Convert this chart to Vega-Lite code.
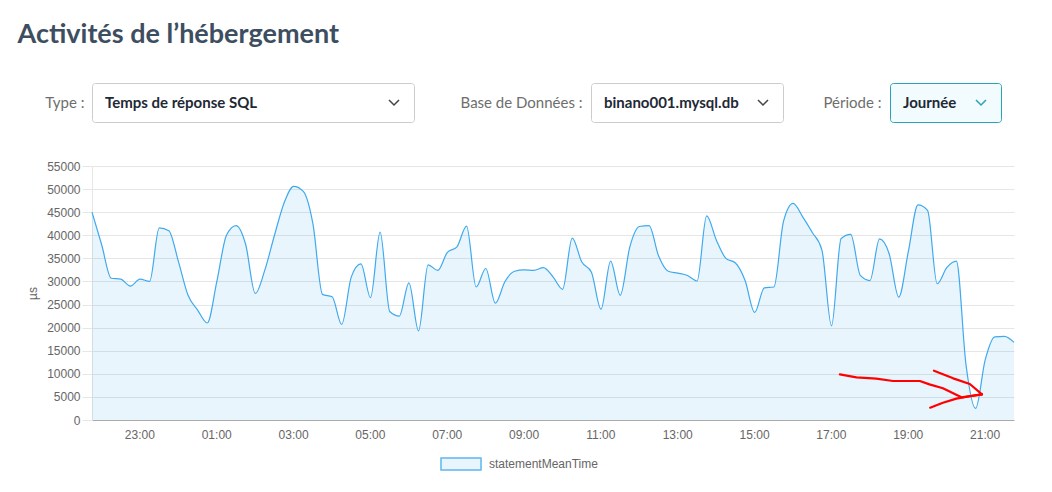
{
  "$schema": "https://vega.github.io/schema/vega-lite/v6.json",
  "padding": {"left": 17, "top": 20, "right": 10, "bottom": 5},
  "background": "white",
  "title": {"text": "Activités de l’hébergement", "anchor": "start", "font": "Lato", "fontSize": 27, "fontWeight": "bold", "color": "#3d4e61", "offset": 34},
  "datasets": {
    "filtres": [
      {"filtre": "Type :", "choix": "Temps de réponse SQL"},
      {"filtre": "Base de Données :", "choix": "binano001.mysql.db"},
      {"filtre": "Période :", "choix": "Journée"}
    ],
    "series": [
      {"heure": "2021-03-09T21:46", "valeur": 45000},
      {"heure": "2021-03-09T22:01", "valeur": 38000},
      {"heure": "2021-03-09T22:16", "valeur": 30700},
      {"heure": "2021-03-09T22:31", "valeur": 30500},
      {"heure": "2021-03-09T22:46", "valeur": 29000},
      {"heure": "2021-03-09T23:01", "valeur": 30500},
      {"heure": "2021-03-09T23:16", "valeur": 30000},
      {"heure": "2021-03-09T23:31", "valeur": 41600},
      {"heure": "2021-03-09T23:46", "valeur": 41000},
      {"heure": "2021-03-10T00:01", "valeur": 34300},
      {"heure": "2021-03-10T00:16", "valeur": 27000},
      {"heure": "2021-03-10T00:31", "valeur": 23800},
      {"heure": "2021-03-10T00:46", "valeur": 21000},
      {"heure": "2021-03-10T01:01", "valeur": 30000},
      {"heure": "2021-03-10T01:16", "valeur": 40000},
      {"heure": "2021-03-10T01:31", "valeur": 42100},
      {"heure": "2021-03-10T01:46", "valeur": 38000},
      {"heure": "2021-03-10T02:01", "valeur": 27400},
      {"heure": "2021-03-10T02:16", "valeur": 32500},
      {"heure": "2021-03-10T02:31", "valeur": 40000},
      {"heure": "2021-03-10T02:46", "valeur": 47000},
      {"heure": "2021-03-10T03:01", "valeur": 50600},
      {"heure": "2021-03-10T03:16", "valeur": 49500},
      {"heure": "2021-03-10T03:31", "valeur": 42500},
      {"heure": "2021-03-10T03:46", "valeur": 27200},
      {"heure": "2021-03-10T04:01", "valeur": 26700},
      {"heure": "2021-03-10T04:16", "valeur": 20700},
      {"heure": "2021-03-10T04:31", "valeur": 31000},
      {"heure": "2021-03-10T04:46", "valeur": 33800},
      {"heure": "2021-03-10T05:01", "valeur": 26500},
      {"heure": "2021-03-10T05:16", "valeur": 40700},
      {"heure": "2021-03-10T05:31", "valeur": 23500},
      {"heure": "2021-03-10T05:46", "valeur": 22500},
      {"heure": "2021-03-10T06:01", "valeur": 29700},
      {"heure": "2021-03-10T06:16", "valeur": 19300},
      {"heure": "2021-03-10T06:31", "valeur": 33600},
      {"heure": "2021-03-10T06:46", "valeur": 32400},
      {"heure": "2021-03-10T07:01", "valeur": 36300},
      {"heure": "2021-03-10T07:16", "valeur": 37500},
      {"heure": "2021-03-10T07:31", "valeur": 42000},
      {"heure": "2021-03-10T07:46", "valeur": 28800},
      {"heure": "2021-03-10T08:01", "valeur": 32800},
      {"heure": "2021-03-10T08:16", "valeur": 25300},
      {"heure": "2021-03-10T08:31", "valeur": 30000},
      {"heure": "2021-03-10T08:46", "valeur": 32200},
      {"heure": "2021-03-10T09:01", "valeur": 32500},
      {"heure": "2021-03-10T09:16", "valeur": 32400},
      {"heure": "2021-03-10T09:31", "valeur": 33000},
      {"heure": "2021-03-10T09:46", "valeur": 31000},
      {"heure": "2021-03-10T10:01", "valeur": 28300},
      {"heure": "2021-03-10T10:16", "valeur": 39400},
      {"heure": "2021-03-10T10:31", "valeur": 34200},
      {"heure": "2021-03-10T10:46", "valeur": 32000},
      {"heure": "2021-03-10T11:01", "valeur": 24000},
      {"heure": "2021-03-10T11:16", "valeur": 34400},
      {"heure": "2021-03-10T11:31", "valeur": 27000},
      {"heure": "2021-03-10T11:46", "valeur": 37500},
      {"heure": "2021-03-10T12:01", "valeur": 41900},
      {"heure": "2021-03-10T12:16", "valeur": 42100},
      {"heure": "2021-03-10T12:31", "valeur": 35500},
      {"heure": "2021-03-10T12:46", "valeur": 32200},
      {"heure": "2021-03-10T13:01", "valeur": 31800},
      {"heure": "2021-03-10T13:16", "valeur": 31300},
      {"heure": "2021-03-10T13:31", "valeur": 30100},
      {"heure": "2021-03-10T13:46", "valeur": 44200},
      {"heure": "2021-03-10T14:01", "valeur": 39000},
      {"heure": "2021-03-10T14:16", "valeur": 35000},
      {"heure": "2021-03-10T14:31", "valeur": 34000},
      {"heure": "2021-03-10T14:46", "valeur": 30200},
      {"heure": "2021-03-10T15:01", "valeur": 23300},
      {"heure": "2021-03-10T15:16", "valeur": 28600},
      {"heure": "2021-03-10T15:31", "valeur": 28800},
      {"heure": "2021-03-10T15:46", "valeur": 43000},
      {"heure": "2021-03-10T16:01", "valeur": 46900},
      {"heure": "2021-03-10T16:16", "valeur": 44000},
      {"heure": "2021-03-10T16:31", "valeur": 40600},
      {"heure": "2021-03-10T16:46", "valeur": 36800},
      {"heure": "2021-03-10T17:01", "valeur": 20400},
      {"heure": "2021-03-10T17:16", "valeur": 39300},
      {"heure": "2021-03-10T17:31", "valeur": 40200},
      {"heure": "2021-03-10T17:46", "valeur": 31300},
      {"heure": "2021-03-10T18:01", "valeur": 30200},
      {"heure": "2021-03-10T18:16", "valeur": 39200},
      {"heure": "2021-03-10T18:31", "valeur": 36000},
      {"heure": "2021-03-10T18:46", "valeur": 26600},
      {"heure": "2021-03-10T19:01", "valeur": 36500},
      {"heure": "2021-03-10T19:16", "valeur": 46600},
      {"heure": "2021-03-10T19:31", "valeur": 45400},
      {"heure": "2021-03-10T19:46", "valeur": 29500},
      {"heure": "2021-03-10T20:01", "valeur": 33000},
      {"heure": "2021-03-10T20:16", "valeur": 34400},
      {"heure": "2021-03-10T20:31", "valeur": 12000},
      {"heure": "2021-03-10T20:46", "valeur": 2500},
      {"heure": "2021-03-10T21:01", "valeur": 13000},
      {"heure": "2021-03-10T21:16", "valeur": 18000},
      {"heure": "2021-03-10T21:31", "valeur": 18100},
      {"heure": "2021-03-10T21:46", "valeur": 16800}
    ],
    "fleche": [
      {"trait": "tige", "heure": "2021-03-10T17:14", "valeur": 9890},
      {"trait": "tige", "heure": "2021-03-10T17:40", "valeur": 9240},
      {"trait": "tige", "heure": "2021-03-10T18:11", "valeur": 8950},
      {"trait": "tige", "heure": "2021-03-10T18:37", "valeur": 8450},
      {"trait": "tige", "heure": "2021-03-10T19:19", "valeur": 8450},
      {"trait": "tige", "heure": "2021-03-10T19:34", "valeur": 7720},
      {"trait": "tige", "heure": "2021-03-10T19:55", "valeur": 6860},
      {"trait": "tige", "heure": "2021-03-10T20:11", "valeur": 5780},
      {"trait": "tige", "heure": "2021-03-10T20:24", "valeur": 4910},
      {"trait": "tige", "heure": "2021-03-10T20:56", "valeur": 5560},
      {"trait": "bas", "heure": "2021-03-10T19:35", "valeur": 2670},
      {"trait": "bas", "heure": "2021-03-10T19:55", "valeur": 3750},
      {"trait": "bas", "heure": "2021-03-10T20:16", "valeur": 4620},
      {"trait": "bas", "heure": "2021-03-10T20:39", "valeur": 5200},
      {"trait": "bas", "heure": "2021-03-10T20:56", "valeur": 5560},
      {"trait": "haut", "heure": "2021-03-10T19:41", "valeur": 10680},
      {"trait": "haut", "heure": "2021-03-10T20:11", "valeur": 9020},
      {"trait": "haut", "heure": "2021-03-10T20:37", "valeur": 7800},
      {"trait": "haut", "heure": "2021-03-10T20:56", "valeur": 5560}
    ]
  },
  "vconcat": [
    {
      "hconcat": [
        {
          "data": {"name": "filtres"},
          "transform": [{"filter": "datum.filtre === 'Type :'"}],
          "width": 322, "height": 39,
          "view": {"fill": "white", "stroke": "#cccccc", "cornerRadius": 3},
          "encoding": {
            "y": {"field": "filtre", "type": "nominal", "axis": {"title": null, "ticks": false, "domain": false, "labelPadding": 8, "labelFont": "Lato", "labelFontSize": 15, "labelColor": "#6e6e6e", "minExtent": 74}},
            "x": {"field": "filtre", "type": "nominal", "axis": null, "scale": {"type": "band", "paddingInner": 0, "paddingOuter": 0}}
          },
          "layer": [
            {"mark": {"type": "text", "align": "left", "dx": 13, "font": "Lato", "fontSize": 15, "fontWeight": "bold", "color": "#1e2935"},
             "encoding": {"text": {"field": "choix"}, "x": {"field": "filtre", "type": "nominal", "axis": null, "bandPosition": 0}}},
            {"mark": {"type": "point", "shape": "M-1,-0.5L0,0.5L1,-0.5", "size": 100, "filled": false, "stroke": "#444444", "strokeWidth": 1.5, "opacity": 1, "xOffset": -20},
             "encoding": {"x": {"field": "filtre", "type": "nominal", "axis": null, "bandPosition": 1}}}
          ]
        },
        {
          "data": {"name": "filtres"},
          "transform": [{"filter": "datum.filtre === 'Base de Données :'"}],
          "width": 192, "height": 39,
          "view": {"fill": "white", "stroke": "#cccccc", "cornerRadius": 3},
          "encoding": {
            "y": {"field": "filtre", "type": "nominal", "axis": {"title": null, "ticks": false, "domain": false, "labelPadding": 9, "labelFont": "Lato", "labelFontSize": 15, "labelColor": "#6e6e6e", "minExtent": 137}},
            "x": {"field": "filtre", "type": "nominal", "axis": null, "scale": {"type": "band", "paddingInner": 0, "paddingOuter": 0}}
          },
          "layer": [
            {"mark": {"type": "text", "align": "left", "dx": 13, "font": "Lato", "fontSize": 15, "fontWeight": "bold", "color": "#1e2935"},
             "encoding": {"text": {"field": "choix"}, "x": {"field": "filtre", "type": "nominal", "axis": null, "bandPosition": 0}}},
            {"mark": {"type": "point", "shape": "M-1,-0.5L0,0.5L1,-0.5", "size": 100, "filled": false, "stroke": "#444444", "strokeWidth": 1.5, "opacity": 1, "xOffset": -20},
             "encoding": {"x": {"field": "filtre", "type": "nominal", "axis": null, "bandPosition": 1}}}
          ]
        },
        {
          "data": {"name": "filtres"},
          "transform": [{"filter": "datum.filtre === 'Période :'"}],
          "width": 111, "height": 39,
          "view": {"fill": "#f2fbfd", "stroke": "#2aa3b7", "cornerRadius": 3},
          "encoding": {
            "y": {"field": "filtre", "type": "nominal", "axis": {"title": null, "ticks": false, "domain": false, "labelPadding": 9, "labelFont": "Lato", "labelFontSize": 15, "labelColor": "#6e6e6e"}},
            "x": {"field": "filtre", "type": "nominal", "axis": null, "scale": {"type": "band", "paddingInner": 0, "paddingOuter": 0}}
          },
          "layer": [
            {"mark": {"type": "text", "align": "left", "dx": 13, "font": "Lato", "fontSize": 15, "fontWeight": "bold", "color": "#1e2935"},
             "encoding": {"text": {"field": "choix"}, "x": {"field": "filtre", "type": "nominal", "axis": null, "bandPosition": 0}}},
            {"mark": {"type": "point", "shape": "M-1,-0.5L0,0.5L1,-0.5", "size": 100, "filled": false, "stroke": "#2aa3b7", "strokeWidth": 1.5, "opacity": 1, "xOffset": -20},
             "encoding": {"x": {"field": "filtre", "type": "nominal", "axis": null, "bandPosition": 1}}}
          ]
        }
      ],
      "spacing": 38
    },
    {
      "width": 922,
      "height": 254,
      "encoding": {
        "x": {"field": "heure", "type": "temporal",
          "scale": {"domain": [{"year": 2021, "month": 3, "date": 9, "hours": 21, "minutes": 46}, {"year": 2021, "month": 3, "date": 10, "hours": 21, "minutes": 46}], "nice": false},
          "axis": {"title": null, "format": "%H:%M", "grid": false, "ticks": false, "domainColor": "#aaaaaa", "labelColor": "#666666", "labelFont": "Liberation Sans", "labelFontSize": 12, "labelPadding": 9, "labelFlush": false,
            "values": [
              {"year": 2021, "month": 3, "date": 9, "hours": 23},
              {"year": 2021, "month": 3, "date": 10, "hours": 1},
              {"year": 2021, "month": 3, "date": 10, "hours": 3},
              {"year": 2021, "month": 3, "date": 10, "hours": 5},
              {"year": 2021, "month": 3, "date": 10, "hours": 7},
              {"year": 2021, "month": 3, "date": 10, "hours": 9},
              {"year": 2021, "month": 3, "date": 10, "hours": 11},
              {"year": 2021, "month": 3, "date": 10, "hours": 13},
              {"year": 2021, "month": 3, "date": 10, "hours": 15},
              {"year": 2021, "month": 3, "date": 10, "hours": 17},
              {"year": 2021, "month": 3, "date": 10, "hours": 19},
              {"year": 2021, "month": 3, "date": 10, "hours": 21}
            ]}},
        "y": {"field": "valeur", "type": "quantitative",
          "scale": {"domain": [0, 55000], "nice": false},
          "axis": {"title": "µs", "values": [0, 5000, 10000, 15000, 20000, 25000, 30000, 35000, 40000, 45000, 50000, 55000], "format": "d",
            "gridColor": "#e6e6e6", "tickColor": "#e6e6e6", "tickSize": 10, "domainColor": "#e6e6e6", "labelPadding": 2,
            "labelColor": "#666666", "labelFont": "Liberation Sans", "labelFontSize": 12,
            "titleFont": "Liberation Sans", "titleFontSize": 12, "titleFontWeight": "normal", "titleColor": "#666666", "titlePadding": 7}}
      },
      "layer": [
        {"data": {"name": "series"},
         "mark": {"type": "area", "interpolate": "monotone"},
         "encoding": {"color": {"datum": "statementMeanTime", "type": "nominal", "scale": {"range": ["rgba(54,162,235,0.11)"]},
           "legend": {"title": null, "orient": "none", "legendX": 356, "legendY": 368, "symbolType": "M-1.667,-0.5H1.667V0.5H-1.667Z", "symbolSize": 576, "symbolStrokeColor": "#5fb6ef", "symbolStrokeWidth": 1.5, "labelFont": "Liberation Sans", "labelFontSize": 12, "labelColor": "#666666", "labelOffset": 15}}}},
        {"data": {"name": "series"},
         "mark": {"type": "line", "interpolate": "monotone", "color": "#3fa9ee", "strokeWidth": 1.2}},
        {"data": {"name": "fleche"},
         "mark": {"type": "line", "color": "#ff0000", "strokeWidth": 2.2, "strokeCap": "round", "strokeJoin": "round"},
         "encoding": {"detail": {"field": "trait"}}}
      ]
    }
  ],
  "spacing": 37,
  "config": {"view": {"stroke": null}, "font": "Liberation Sans"}
}
